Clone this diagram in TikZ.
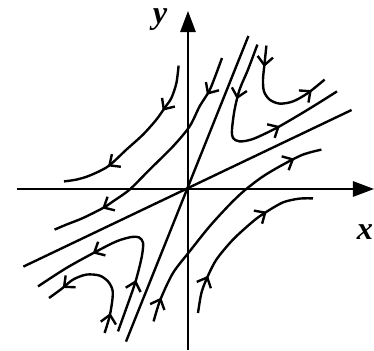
\documentclass[tikz,border=0pt]{standalone}
\usepackage{fontspec}
\setmainfont{Liberation Serif}
\usetikzlibrary{arrows.meta,decorations.markings}
\tikzset{
  barb/.tip={Straight Barb[length=6pt,width=11pt]},
  traj/.style={line width=1.7pt},
  axis/.style={line width=1.1pt,-{Triangle[length=15pt,width=11pt]}},
  axlabel/.style={anchor=base,font=\fontsize{23}{26}\selectfont\bfseries\itshape},
  flow/.style 2 args={postaction={decorate},decoration={markings,
      mark=at position #1 with {\arrow{barb}},
      mark=at position #2 with {\arrow{barb}}}},
}
\begin{document}
\begin{tikzpicture}[x=0.5cm,y=0.5cm]
    \useasboundingbox (-9.4,-8.1) rectangle (9.3,9.45);

    % Axes
    \coordinate (xl) at (-8.55,0);
    \coordinate (xr) at (9.3,0);
    \coordinate (yb) at (0,-8.05);
    \coordinate (yt) at (0,8.9);
    \draw[axis] (xl) -- (xr);
    \draw[axis] (yb) -- (yt);
    \node[axlabel] (ylab) at (-1.4,8.25) {y};
    \node[axlabel] (xlab) at (8.85,-2.55) {x};

    % Separatrices through the saddle
    \coordinate (s1) at (-3.1,-7.63);
    \coordinate (s2) at (3.02,7.65);
    \coordinate (u1) at (-8.23,-3.88);
    \coordinate (u2) at (8.18,3.95);
    \draw[traj] (s1) -- (s2);
    \draw[traj] (u1) -- (u2);

    % Trajectories, upper left
    \draw[traj, flow={0.28}{0.73}] plot[smooth] coordinates {
        (-0.47,6.17) (-0.58,5.30) (-0.83,4.55) (-1.17,4.05) (-1.58,3.47)
        (-2.25,2.72) (-3.08,1.97) (-4.0,1.13) (-4.92,0.67) (-5.58,0.47) (-6.2,0.38)};
    \draw[traj, flow={0.16}{0.79}] plot[smooth] coordinates {
        (1.7,6.55) (1.33,5.55) (1.05,4.88) (0.58,4.13) (0.08,3.13) (-0.75,2.13)
        (-1.92,0.97) (-2.92,-0.03) (-3.75,-0.62) (-4.25,-0.95) (-5.25,-1.45)
        (-6.08,-1.78) (-6.67,-2.03)};

    % Trajectories, upper right
    \draw[traj, flow={0.27}{0.69}] plot[smooth] coordinates {
        (3.47,7.22) (3.0,5.97) (2.58,4.97) (2.33,3.97) (2.2,2.97) (2.25,2.55)
        (2.58,2.38) (3.25,2.5) (4.42,3.05) (5.58,3.72) (6.58,4.33) (7.45,4.88)};
    \draw[traj, flow={0.18}{0.86}] plot[smooth] coordinates {
        (3.92,7.17) (3.83,6.3) (3.75,5.47) (3.8,4.88) (4.08,4.47) (4.58,4.27)
        (5.25,4.38) (6.0,4.8) (6.83,5.47)};

    % Trajectories, lower right
    \draw[traj, flow={0.1}{0.885}] plot[smooth] coordinates {
        (-1.72,-6.62) (-1.38,-5.53) (-0.75,-4.2) (0.08,-3.12) (1.08,-1.87)
        (2.08,-0.78) (2.83,-0.07) (3.75,0.63) (4.75,1.22) (5.75,1.72) (6.67,1.97)};
    \draw[traj, flow={0.22}{0.72}] plot[smooth] coordinates {
        (0.5,-6.2) (0.67,-5.2) (0.95,-4.45) (1.42,-3.53) (2.25,-2.53)
        (3.25,-1.62) (3.83,-1.2) (4.75,-0.67) (5.58,-0.48) (6.25,-0.47)};

    % Trajectories, lower left
    \draw[traj, flow={0.17}{0.86}] plot[smooth] coordinates {
        (-4.17,-7.2) (-3.92,-6.37) (-3.78,-5.53) (-3.78,-5.03) (-4.0,-4.62)
        (-4.42,-4.33) (-5.08,-4.28) (-5.75,-4.53) (-6.33,-5.0) (-6.95,-5.45)};
    \draw[traj, flow={0.255}{0.7}] plot[smooth] coordinates {
        (-3.5,-7.12) (-3.08,-5.95) (-2.67,-4.78) (-2.42,-3.87) (-2.28,-3.2)
        (-2.25,-2.67) (-2.45,-2.42) (-2.83,-2.4) (-3.58,-2.62) (-4.67,-3.17)
        (-6.08,-3.95) (-7.5,-4.87)};
\end{tikzpicture}
\end{document}
